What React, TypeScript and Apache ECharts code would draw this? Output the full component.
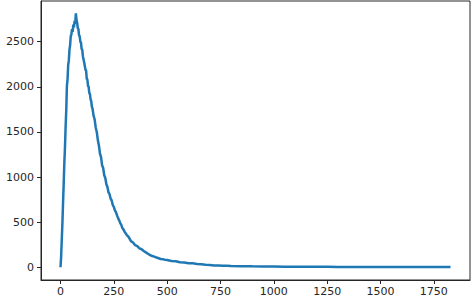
import React, { useEffect, useRef } from "react";
import * as echarts from "echarts";

const xValues = [
  0, 3, 6, 9, 12, 15, 18, 21, 24, 27, 30, 33, 36, 39, 42, 45, 48, 51, 54, 57, 60, 63, 66, 69, 72, 75, 78, 81, 84, 87, 90, 93, 96, 99, 102, 105, 108, 111, 114, 117, 120, 123, 126, 129, 132, 135, 138, 141, 144, 147, 150,
  155, 160, 165, 170, 175, 180, 185, 190, 195, 200, 205, 210, 215, 220, 225, 230, 235, 240, 245, 250, 255, 260, 265, 270, 275, 280, 285, 290, 295, 300,
  310, 320, 330, 340, 350, 360, 370, 380, 390, 400, 410, 420, 430, 440, 450, 460, 470, 480, 490, 500,
  520, 540, 560, 580, 600, 620, 640, 660, 680, 700, 720, 740, 760, 780, 800,
  850, 900, 950, 1000, 1050, 1100, 1150, 1200, 1250, 1300, 1350, 1400, 1450, 1500, 1550, 1600, 1650, 1700, 1750, 1800, 1828,
];

const yValues = [
  0, 120, 310, 490, 720, 930, 1160, 1330, 1560, 1740, 2010, 2080, 2240, 2290, 2410, 2460, 2560, 2580, 2640, 2610, 2690, 2660, 2730, 2700, 2815, 2740, 2710, 2650, 2640, 2570, 2560, 2500, 2490, 2420, 2410, 2340, 2340, 2270, 2270, 2190, 2180, 2090, 2080, 2010, 2000, 1930, 1920, 1860, 1840, 1780, 1760,
  1680, 1640, 1550, 1500, 1410, 1350, 1260, 1220, 1130, 1100, 1020, 990, 920, 890, 830, 810, 760, 740, 690, 670, 630, 610, 575, 545, 520, 490, 470, 435, 420, 395,
  360, 335, 290, 275, 245, 235, 210, 200, 180, 165, 150, 135, 125, 118, 108, 100, 92, 90, 82, 80,
  70, 66, 56, 54, 45, 44, 36, 33, 27, 26, 21, 20, 17, 16, 14,
  12, 10, 9, 8, 7, 6, 6, 5, 5, 4, 4, 4, 3, 3, 3, 3, 3, 3, 3, 3, 3,
];

const xTicks = [0, 250, 500, 750, 1000, 1250, 1500, 1750];
const yTicks = [0, 500, 1000, 1500, 2000, 2500];

export default function App() {
  const ref = useRef<HTMLDivElement>(null);
  useEffect(() => {
    if (!ref.current) return;
    const chart = echarts.init(ref.current, null, { renderer: "svg" });
    const data = xValues.map((x, i) => [x, yValues[i]]);
    const labelStyle = {
      fontFamily: "DejaVu Sans",
      fontSize: 11,
      color: "#262626",
      formatter: (v: number) => String(v),
    };
    chart.setOption({
      animation: false,
      grid: {
        left: 41,
        right: 2,
        top: 1,
        bottom: 20,
        show: true,
        borderColor: "#262626",
        borderWidth: 1,
        backgroundColor: "#fff",
      },
      xAxis: {
        type: "value",
        min: -91.4,
        max: 1919.4,
        splitLine: { show: false },
        axisLine: { show: true, onZero: false, lineStyle: { color: "#262626", width: 1 } },
        axisTick: { show: true, length: 4, customValues: xTicks, lineStyle: { color: "#262626" } },
        axisLabel: { ...labelStyle, margin: 6, customValues: xTicks },
      },
      yAxis: {
        type: "value",
        min: -141,
        max: 2951,
        splitLine: { show: false },
        axisLine: { show: true, onZero: false, lineStyle: { color: "#262626", width: 1 } },
        axisTick: { show: true, length: 4, customValues: yTicks, lineStyle: { color: "#262626" } },
        axisLabel: { ...labelStyle, margin: 7, customValues: yTicks },
      },
      series: [
        {
          type: "line",
          data,
          showSymbol: false,
          symbol: "none",
          lineStyle: { color: "#1f77b4", width: 2.5 },
        },
      ],
    });
    return () => chart.dispose();
  }, []);
  return <div ref={ref} style={{ width: 472, height: 300, position: "absolute", left: 0, top: 0 }} />;
}
